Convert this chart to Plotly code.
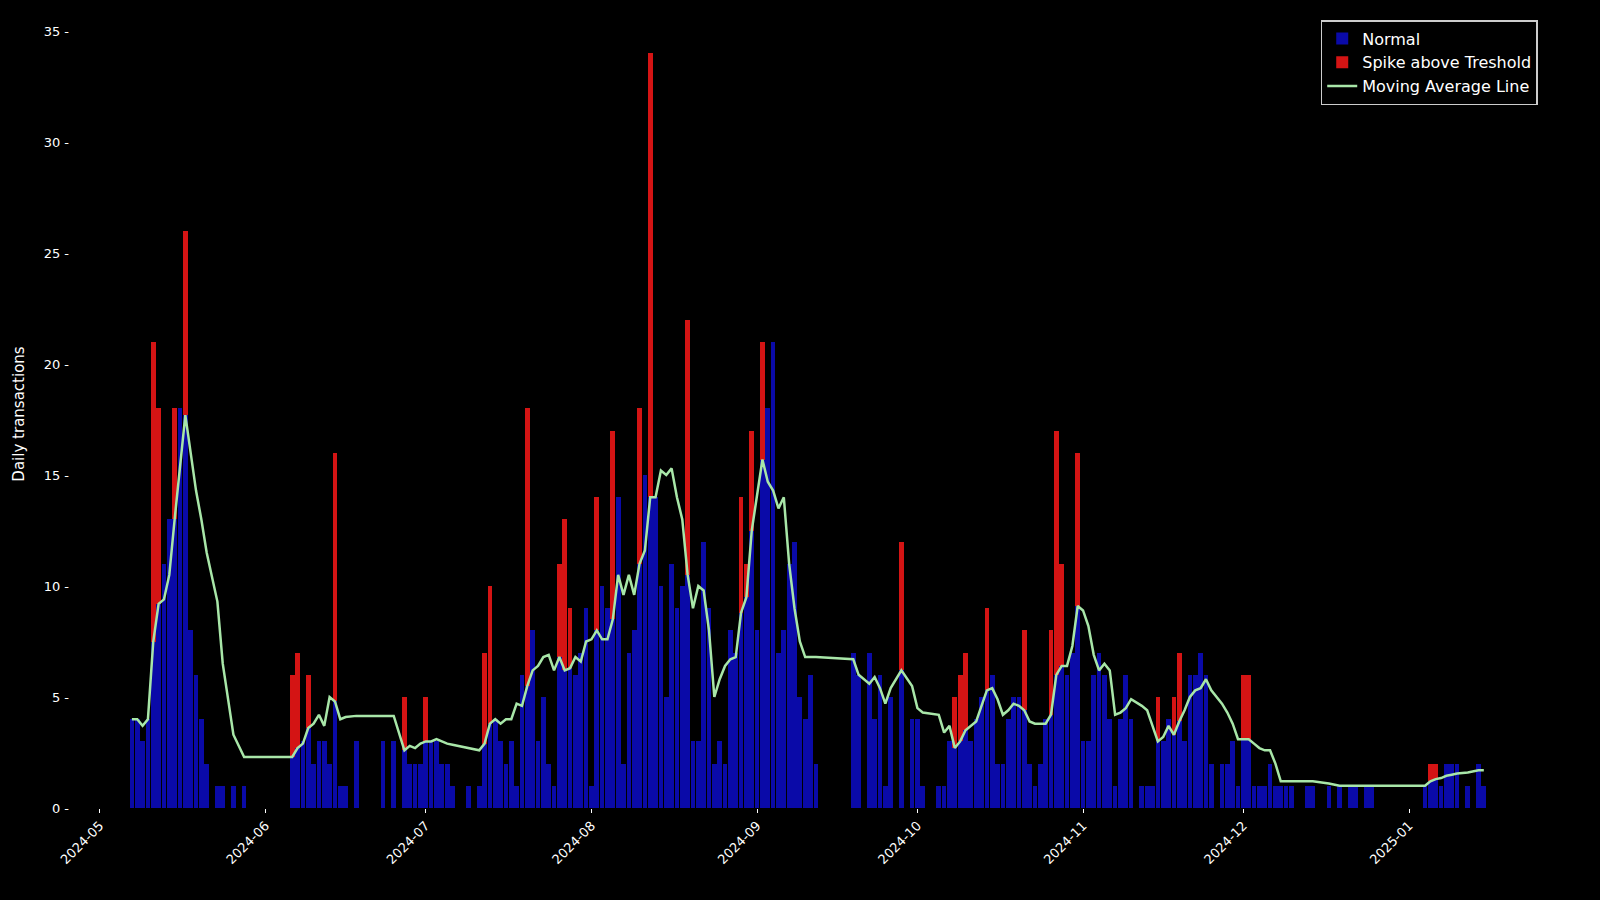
import plotly.graph_objects as go
import pandas as pd

dates = ["2024-05-07","2024-05-08","2024-05-09","2024-05-10","2024-05-11","2024-05-12","2024-05-13","2024-05-14","2024-05-15","2024-05-16","2024-05-17","2024-05-18","2024-05-19","2024-05-20","2024-05-21","2024-05-23","2024-05-24","2024-05-26","2024-05-28",
"2024-06-06","2024-06-07","2024-06-08","2024-06-09","2024-06-10","2024-06-11","2024-06-12","2024-06-13","2024-06-14","2024-06-15","2024-06-16","2024-06-18","2024-06-23","2024-06-25",
"2024-06-27","2024-06-28","2024-06-29","2024-06-30","2024-07-01","2024-07-02","2024-07-03","2024-07-04","2024-07-05","2024-07-06","2024-07-09","2024-07-11",
"2024-07-12","2024-07-13","2024-07-14","2024-07-15","2024-07-16","2024-07-17","2024-07-18","2024-07-19","2024-07-20","2024-07-21","2024-07-22","2024-07-23","2024-07-24","2024-07-25","2024-07-26","2024-07-27","2024-07-28","2024-07-29","2024-07-30","2024-07-31",
"2024-08-01","2024-08-02","2024-08-03","2024-08-04","2024-08-05","2024-08-06","2024-08-07","2024-08-08","2024-08-09","2024-08-10","2024-08-11","2024-08-12","2024-08-13","2024-08-14","2024-08-15","2024-08-16","2024-08-17","2024-08-18","2024-08-19","2024-08-20","2024-08-21","2024-08-22","2024-08-23","2024-08-24","2024-08-25","2024-08-26","2024-08-27","2024-08-28","2024-08-29","2024-08-30","2024-08-31",
"2024-09-01","2024-09-02","2024-09-03","2024-09-04","2024-09-05","2024-09-06","2024-09-07","2024-09-08","2024-09-09","2024-09-10","2024-09-11","2024-09-12",
"2024-09-19","2024-09-20","2024-09-22","2024-09-23","2024-09-24","2024-09-25","2024-09-26","2024-09-28","2024-09-30","2024-10-01","2024-10-02",
"2024-10-05","2024-10-06","2024-10-07","2024-10-08","2024-10-09","2024-10-10","2024-10-11","2024-10-12","2024-10-13","2024-10-14","2024-10-15","2024-10-16","2024-10-17","2024-10-18","2024-10-19","2024-10-20","2024-10-21","2024-10-22","2024-10-23","2024-10-24","2024-10-25","2024-10-26","2024-10-27","2024-10-28","2024-10-29","2024-10-30","2024-10-31",
"2024-11-01","2024-11-02","2024-11-03","2024-11-04","2024-11-05","2024-11-06","2024-11-07","2024-11-08","2024-11-09","2024-11-10","2024-11-12","2024-11-13","2024-11-14","2024-11-15","2024-11-16","2024-11-17","2024-11-18","2024-11-19","2024-11-20","2024-11-21","2024-11-22","2024-11-23","2024-11-24","2024-11-25","2024-11-27","2024-11-28","2024-11-29","2024-11-30",
"2024-12-01","2024-12-02","2024-12-03","2024-12-04","2024-12-05","2024-12-06","2024-12-07","2024-12-08","2024-12-09","2024-12-10","2024-12-13","2024-12-14","2024-12-17","2024-12-19","2024-12-21","2024-12-22","2024-12-24","2024-12-25",
"2025-01-04","2025-01-05","2025-01-06","2025-01-07","2025-01-08","2025-01-09","2025-01-10","2025-01-12","2025-01-14","2025-01-15"]

values = [4,4,3,4,21,18,11,13,18,18,26,8,6,4,2,1,1,1,1,
6,7,3,6,2,3,3,2,16,1,1,3,3,3,
5,2,2,2,5,3,3,2,2,1,1,1,
7,10,4,3,2,3,1,6,18,8,3,5,2,1,11,13,9,6,7,9,
1,14,10,9,17,14,2,7,8,18,15,34,14,10,5,11,9,10,22,3,3,12,9,2,3,2,8,7,14,11,17,
8,21,18,21,7,8,11,12,5,4,6,2,
7,6,7,4,6,1,5,12,4,4,1,
1,1,3,5,6,7,3,4,5,9,6,2,2,4,5,5,8,2,1,2,4,8,17,11,6,7,16,
3,3,6,7,6,4,1,4,6,4,1,1,1,5,3,4,5,7,3,6,6,7,6,2,2,2,3,1,
6,6,1,1,1,2,1,1,1,1,1,1,1,1,1,1,1,1,
1,2,2,1,2,2,2,1,2,1]

moving_avg = [4,4,3.7,4,7.5,9.2,9.4,10.5,13,15.5,17.7,16,14.3,13,11.5,9.3,6.5,3.3,2.3,
2.3,2.7,2.9,3.6,3.8,4.2,3.7,5.0,4.8,4.0,4.1,4.15,4.15,4.15,
2.6,2.8,2.7,2.9,3.0,3.0,3.1,3.0,2.9,2.85,2.7,2.6,
2.9,3.8,4.0,3.8,4.0,4.0,4.7,4.6,5.5,6.2,6.4,6.8,6.9,6.2,6.8,6.2,6.3,6.8,6.6,7.5,
7.6,8.0,7.6,7.6,8.5,10.5,9.6,10.5,9.6,11,11.6,14,14,15.2,15,15.3,14,13,10.5,9,10,9.8,8,5,5.8,6.4,6.7,6.8,8.8,9.5,12.5,
14,15.7,14.7,14.3,13.5,14,11,9,7.5,6.8,6.8,6.8,
6.7,6.0,5.6,5.9,5.4,4.7,5.4,6.2,5.5,4.5,4.3,
4.2,3.4,3.7,2.7,3.0,3.5,3.7,3.9,4.6,5.3,5.4,4.9,4.2,4.4,4.7,4.6,4.4,3.9,3.8,3.8,3.8,4.2,6.0,6.4,6.4,7.3,9.1,
8.9,8.2,6.9,6.2,6.5,6.2,4.2,4.3,4.5,4.9,4.6,4.4,3.7,3.0,3.2,3.7,3.3,3.9,4.4,5.0,5.3,5.4,5.8,5.3,4.7,4.3,3.8,3.1,
3.1,3.1,2.9,2.7,2.6,2.6,2.0,1.2,1.2,1.2,1.2,1.2,1.1,1.0,1.0,1.0,1.0,1.0,
1.0,1.2,1.3,1.35,1.45,1.5,1.55,1.6,1.7,1.7]

spike_dates = ["2024-05-11","2024-05-12","2024-05-15","2024-05-17","2024-06-06","2024-06-07","2024-06-09","2024-06-14",
"2024-06-27","2024-07-01","2024-07-12","2024-07-13","2024-07-20","2024-07-26","2024-07-27","2024-07-28",
"2024-08-02","2024-08-05","2024-08-10","2024-08-12","2024-08-19","2024-08-29","2024-08-30","2024-08-31","2024-09-02",
"2024-09-28","2024-10-08","2024-10-09","2024-10-10","2024-10-14","2024-10-21","2024-10-26","2024-10-27","2024-10-28","2024-10-31",
"2024-11-15","2024-11-18","2024-11-19","2024-12-01","2024-12-02","2025-01-05","2025-01-06"]

df = pd.DataFrame({"date": pd.to_datetime(dates), "value": values, "ma": moving_avg})
df["spike"] = df["date"].isin(pd.to_datetime(spike_dates))
df["blue"] = [min(v, m) if s else v for v, m, s in zip(df.value, df.ma, df.spike)]
df["red"] = [v - min(v, m) if s else 0 for v, m, s in zip(df.value, df.ma, df.spike)]

w = 0.88 * 86400000
fig = go.Figure()
fig.add_trace(go.Bar(x=df.date, y=df.blue, width=w, marker_color="#0a0aa8", marker_line_width=0, name="Normal"))
fig.add_trace(go.Bar(x=df.date, y=df.red, base=df.blue, width=w, marker_color="#d41414", marker_line_width=0, name="Spike above Treshold"))
fig.add_trace(go.Scatter(x=df.date, y=df.ma, mode="lines", line=dict(color="#a8e6a8", width=2.5), name="Moving Average Line"))

fig.update_layout(
    width=1600, height=900, paper_bgcolor="black", plot_bgcolor="black",
    margin=dict(l=70, r=20, t=20, b=92), barmode="overlay", bargap=0,
    font=dict(family="DejaVu Sans", color="white", size=13),
    showlegend=True,
    legend=dict(x=0.972, y=1.0, xanchor="right", yanchor="top", bgcolor="black",
                bordercolor="#cccccc", borderwidth=1.5, font=dict(size=16, color="white")),
)
fig.update_xaxes(range=["2024-04-25 10:00", "2025-02-02"], showgrid=False, zeroline=False,
                 tickvals=["2024-05-01","2024-06-01","2024-07-01","2024-08-01","2024-09-01","2024-10-01","2024-11-01","2024-12-01","2025-01-01"],
                 ticktext=["2024-05","2024-06","2024-07","2024-08","2024-09","2024-10","2024-11","2024-12","2025-01"],
                 tickangle=-45, ticks="outside", ticklen=4, tickcolor="white", showline=False)
fig.update_yaxes(range=[0, 35.5], showgrid=False, zeroline=False, tickvals=[0,5,10,15,20,25,30,35],
                 ticktext=["0 -","5 -","10 -","15 -","20 -","25 -","30 -","35 -"], ticks="",
                 title=dict(text="Daily transactions", font=dict(size=15)), showline=False)
fig.write_html("out.html", config={"displayModeBar": False},
               post_script="document.body.style.margin='0';document.body.style.background='black';document.body.style.overflow='hidden';")
